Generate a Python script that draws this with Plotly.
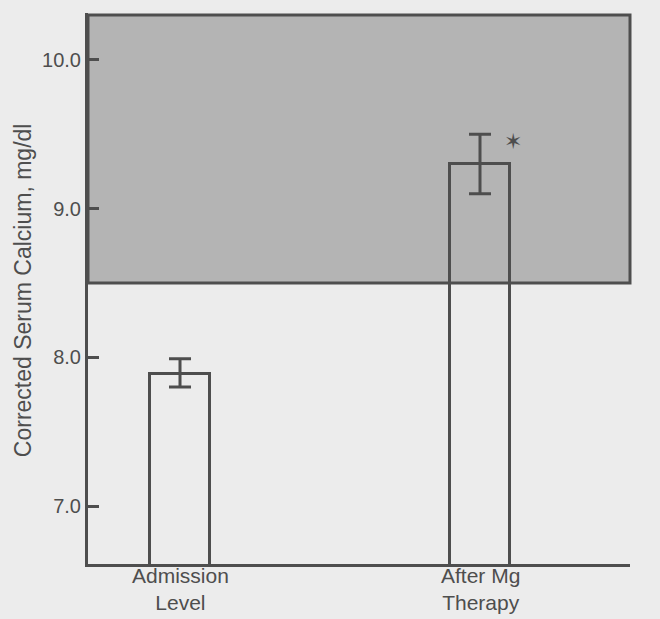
import plotly.graph_objects as go

categories = ["Admission<br>Level", "After Mg<br>Therapy"]
cat_pos = [0, 1]
calcium_mean = [7.89, 9.30]
err_plus = [0.10, 0.20]
err_minus = [0.09, 0.20]
normal_low = 8.5
y_ticks = [7, 8, 9, 10]
y_tick_labels = ["7.0", "8.0", "9.0", "10.0"]

BG = "#ececec"
GRAY = "#b4b4b4"
INK = "#4e4e4e"
FONT = "Liberation Sans, Arial, sans-serif"

fig = go.Figure()
fig.add_trace(go.Bar(
    x=cat_pos, y=calcium_mean, width=0.2,
    marker=dict(color="rgba(0,0,0,0)", line=dict(color=INK, width=3)),
    error_y=dict(type="data", array=err_plus, arrayminus=err_minus,
                 color=INK, thickness=3, width=11),
    showlegend=False, hoverinfo="skip",
))

fig.add_shape(type="rect", xref="paper", yref="y", x0=0, x1=1,
              y0=normal_low, y1=10.303, fillcolor=GRAY,
              line=dict(color=INK, width=3), layer="below")

fig.add_annotation(x=1.11, y=9.455, xref="x", yref="y", text="✶",
                   showarrow=False, font=dict(family="DejaVu Sans", size=22, color=INK))

fig.add_annotation(x=-0.1199, y=0.497, xref="paper", yref="paper",
                   xanchor="center", yanchor="middle",
                   text="Corrected Serum Calcium, mg/dl", textangle=-90,
                   showarrow=False, font=dict(family=FONT, size=23, color=INK))

for pos, txt in zip(cat_pos, categories):
    fig.add_annotation(x=pos, y=-0.046, xref="x", yref="paper",
                       xanchor="center", yanchor="middle", text=txt,
                       showarrow=False, font=dict(family=FONT, size=21, color=INK))

fig.update_layout(
    width=660, height=619, autosize=False,
    margin=dict(l=88, r=30, t=13, b=55),
    paper_bgcolor=BG, plot_bgcolor=BG,
    font=dict(family=FONT, color=INK),
    bargap=0,
)
fig.update_xaxes(range=[-0.3067, 1.5], showticklabels=False,
                 showline=True, linecolor=INK, linewidth=3, showgrid=False,
                 zeroline=False, ticks="")
fig.update_yaxes(range=[6.610, 10.316], tickvals=y_ticks, ticktext=y_tick_labels,
                 showline=True, linecolor=INK, linewidth=3, showgrid=False,
                 zeroline=False, ticks="inside", ticklen=11, tickwidth=3,
                 tickcolor=INK, tickfont=dict(size=20, color=INK))

fig.write_html(
    "out.html",
    config={"displayModeBar": False},
    post_script="document.documentElement.style.margin='0';"
                "document.body.style.margin='0';"
                "document.body.style.padding='0';"
                "document.body.style.background='" + BG + "';",
)
